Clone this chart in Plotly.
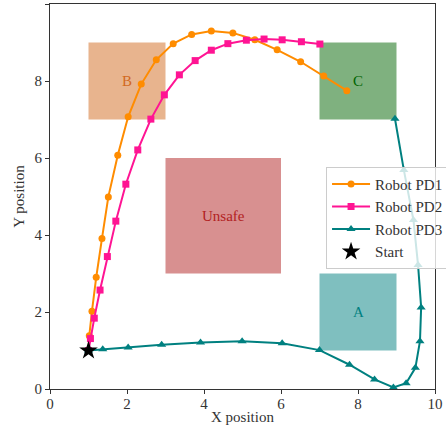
import plotly.graph_objects as go

# Trajectories
pd1_x = [1.0, 1.02, 1.09, 1.20, 1.35, 1.515, 1.76, 2.03, 2.37, 2.76, 3.20, 3.68, 4.19, 4.75, 5.32, 5.90, 6.51, 7.11, 7.71]
pd1_y = [1.0, 1.38, 2.02, 2.90, 3.91, 4.99, 6.07, 7.07, 7.92, 8.55, 8.97, 9.21, 9.30, 9.25, 9.07, 8.81, 8.50, 8.13, 7.75]

pd2_x = [1.0, 1.05, 1.15, 1.30, 1.49, 1.71, 1.97, 2.28, 2.62, 2.97, 3.36, 3.77, 4.19, 4.62, 5.10, 5.56, 6.03, 6.53, 7.01]
pd2_y = [1.0, 1.31, 1.84, 2.57, 3.44, 4.36, 5.32, 6.21, 7.01, 7.64, 8.16, 8.53, 8.80, 8.97, 9.06, 9.09, 9.07, 9.02, 8.96]

pd3_x = [1.0, 1.37, 2.03, 2.90, 3.91, 4.99, 6.03, 7.00, 7.78, 8.43, 8.92, 9.25, 9.49, 9.61, 9.64, 9.56, 9.44, 9.19, 8.96]
pd3_y = [1.0, 1.03, 1.08, 1.15, 1.21, 1.24, 1.19, 1.01, 0.63, 0.25, 0.04, 0.15, 0.55, 1.24, 2.12, 3.22, 4.39, 5.69, 7.02]

start_x = [1.0]
start_y = [1.0]

# Regions: name, x0, x1, y0, y1
region_names = ["A", "B", "C", "Unsafe"]
region_x0 = [7, 1, 7, 3]
region_x1 = [9, 3, 9, 6]
region_y0 = [1, 7, 7, 3]
region_y1 = [3, 9, 9, 6]
region_fill = ["rgba(0,128,128,0.5)", "rgba(210,105,30,0.5)", "rgba(0,100,0,0.5)", "rgba(178,34,34,0.5)"]
region_text_color = ["#008080", "#d2691e", "#006400", "#b22222"]

font_family = "Liberation Serif"
fs = 15

fig = go.Figure()

for n, x0, x1, y0, y1, fc, tc in zip(region_names, region_x0, region_x1, region_y0, region_y1, region_fill, region_text_color):
    fig.add_shape(type="rect", x0=x0, x1=x1, y0=y0, y1=y1, xref="x", yref="y",
                  fillcolor=fc, line=dict(width=0), layer="below")
    fig.add_annotation(x=(x0 + x1) / 2, y=(y0 + y1) / 2, text=n, showarrow=False,
                       font=dict(family=font_family, size=fs, color=tc))

fig.add_trace(go.Scatter(x=pd1_x, y=pd1_y, mode="lines+markers", name="Robot PD1",
                         line=dict(color="#ff8c00", width=2),
                         marker=dict(symbol="circle", size=7, color="#ff8c00")))
fig.add_trace(go.Scatter(x=pd2_x, y=pd2_y, mode="lines+markers", name="Robot PD2",
                         line=dict(color="#ff1493", width=2),
                         marker=dict(symbol="square", size=7, color="#ff1493")))
fig.add_trace(go.Scatter(x=pd3_x, y=pd3_y, mode="lines+markers", name="Robot PD3",
                         line=dict(color="#008080", width=2),
                         marker=dict(symbol="triangle-up", size=8, color="#008080")))
fig.add_trace(go.Scatter(x=start_x, y=start_y, mode="markers", name="Start",
                         marker=dict(symbol="star", size=14, color="black")))

axis_common = dict(range=[0, 10], tickvals=[0, 2, 4, 6, 8, 10], showgrid=False, zeroline=False,
                   showline=True, linecolor="#333333", linewidth=1.2, mirror=True,
                   ticks="outside", ticklen=4, tickcolor="#333333", automargin=False,
                   tickfont=dict(family=font_family, size=fs, color="#333333"))

fig.update_layout(
    width=446, height=428,
    margin=dict(l=50, r=11, t=4, b=39, autoexpand=False),
    plot_bgcolor="white", paper_bgcolor="white",
    font=dict(family=font_family, size=fs, color="#333333"),
    xaxis=dict(title=dict(text="X position", font=dict(size=fs), standoff=0),
               ticklabelstandoff=-3, **axis_common),
    yaxis=dict(title=dict(text="Y position", font=dict(size=fs), standoff=6), **axis_common),
    showlegend=True,
    legend=dict(x=0.717, y=0.577, xanchor="left", yanchor="top", itemwidth=38,
                bgcolor="rgba(255,255,255,0.8)", bordercolor="#cccccc", borderwidth=1,
                font=dict(family=font_family, size=fs, color="#333333")),
)

fig.write_html("out.html", config={"displayModeBar": False},
               post_script="document.body.style.margin='0';document.body.style.overflow='hidden';")
